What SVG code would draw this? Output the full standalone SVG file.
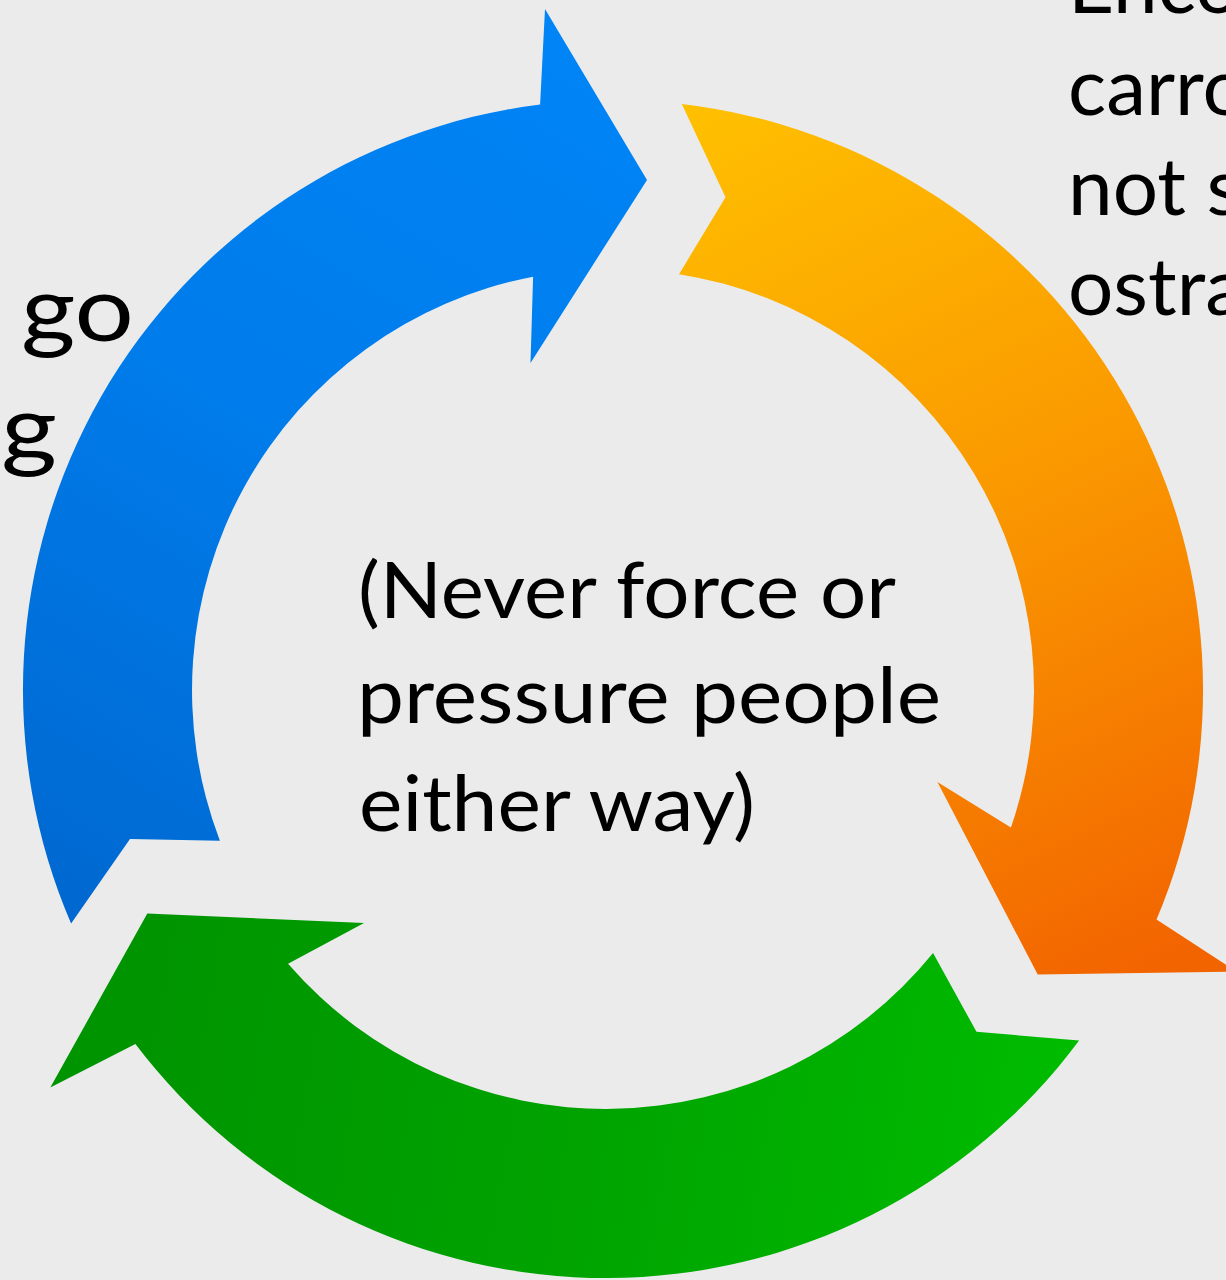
<svg xmlns="http://www.w3.org/2000/svg" width="1226" height="1280" viewBox="0 0 1226 1280">
  <defs>
    <style>
      .t { font-family: "Lato", "Liberation Sans", sans-serif; fill: #000; }
      .c { font-size: 78px; }
      .r { font-size: 80px; }
      .l { font-size: 92px; }
    </style>
    <linearGradient id="gBlue" gradientUnits="userSpaceOnUse" x1="600" y1="60" x2="80" y2="920">
      <stop offset="0" stop-color="#0084F6"/>
      <stop offset="0.5" stop-color="#007BEA"/>
      <stop offset="1" stop-color="#0068D0"/>
    </linearGradient>
    <linearGradient id="gOrange" gradientUnits="userSpaceOnUse" x1="700" y1="100" x2="1120" y2="980">
      <stop offset="0" stop-color="#FFC000"/>
      <stop offset="0.5" stop-color="#FA9800"/>
      <stop offset="1" stop-color="#F26400"/>
    </linearGradient>
    <linearGradient id="gGreen" gradientUnits="userSpaceOnUse" x1="140" y1="950" x2="1080" y2="1100">
      <stop offset="0" stop-color="#009400"/>
      <stop offset="0.5" stop-color="#00A300"/>
      <stop offset="1" stop-color="#00BC00"/>
    </linearGradient>
  </defs>
  <rect x="0" y="0" width="1226" height="1280" fill="#EBEBEB"/>
  <g id="connectors">
    <g id="arrow-blue">
      <path fill="url(#gBlue)" d="M 71.1,923.4 A 590 590 0 0 1 540.1,104.5 L 545,9 L 647,180 L 530.5,363 L 533.1,276.7 A 421 421 0 0 0 219.9,840.7 L 130,839 Z"/>
    </g>
    <g id="arrow-orange">
      <path fill="url(#gOrange)" d="M 681.8,104 A 590 590 0 0 1 1156.5,919.6 L 1236.7,971.6 L 1037.7,974.4 L 937.4,782.1 L 1010.9,827.5 A 421 421 0 0 0 679.05,274.2 L 725.5,197.2 Z"/>
    </g>
    <g id="arrow-green" transform="translate(-7,-2)">
      <path fill="url(#gGreen)" d="M 1086.1,1042.6 A 590 590 0 0 1 142.4,1045.9 L 57.3,1089.4 L 154.3,915.6 L 371.05,924.9 L 295.05,965.85 A 421 421 0 0 0 940.05,955.05 L 983.5,1033.8 Z"/>
    </g>
  </g>
  <g id="node-center">
    <text class="t c" x="358" y="618" textLength="538" lengthAdjust="spacingAndGlyphs">(Never force or</text>
    <text class="t c" x="357" y="723" textLength="584" lengthAdjust="spacingAndGlyphs">pressure people</text>
    <text class="t c" x="359" y="831" textLength="396" lengthAdjust="spacingAndGlyphs">either way)</text>
  </g>
  <g id="node-right">
    <text class="t r" x="1068" y="13">Enco</text>
    <text class="t r" x="1068" y="115">carro</text>
    <text class="t r" x="1068" y="215">not s</text>
    <text class="t r" x="1068" y="315">ostra</text>
  </g>
  <g id="node-left">
    <text class="t l" x="21" y="341" textLength="113" lengthAdjust="spacingAndGlyphs">go</text>
    <text class="t l" x="1" y="460" textLength="56" lengthAdjust="spacingAndGlyphs">g</text>
  </g>
</svg>
